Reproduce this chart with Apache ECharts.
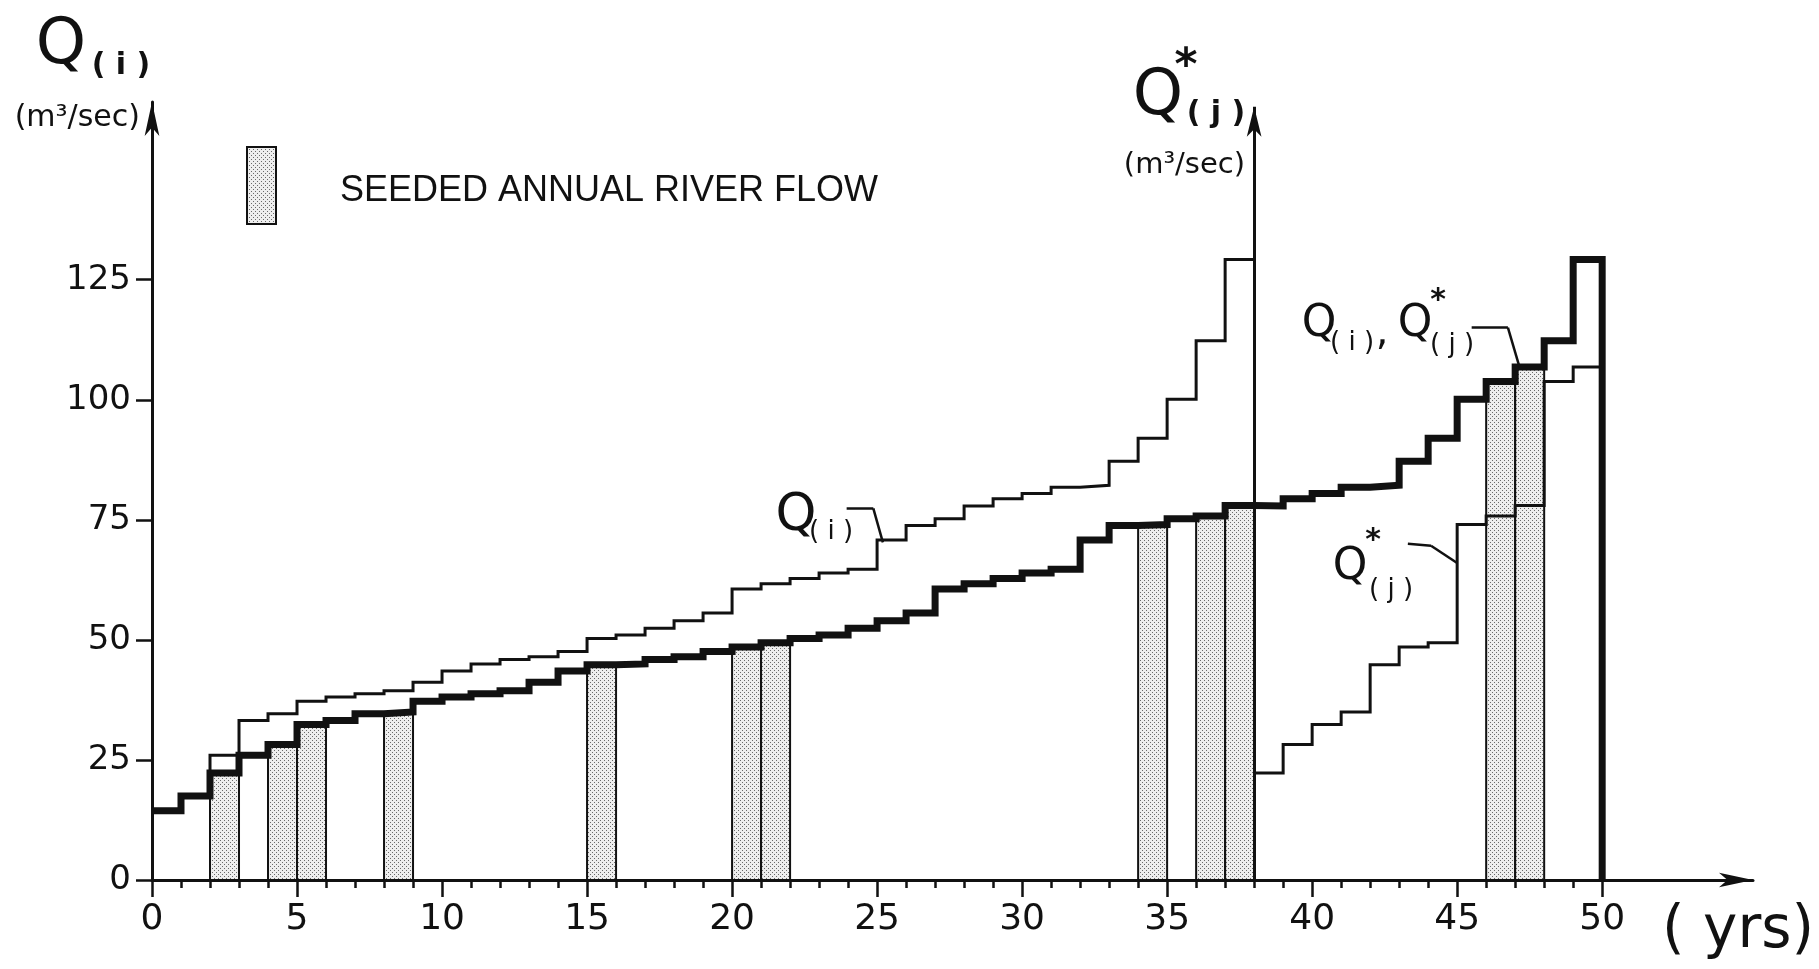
<!DOCTYPE html>
<html>
<head>
<meta charset="utf-8">
<title>Seeded annual river flow</title>
<script src="https://cdn.jsdelivr.net/npm/echarts@6/dist/echarts.min.js"></script>
<style>
html, body { margin: 0; padding: 0; background: #fff; }
#main { width: 1819px; height: 969px; }
</style>
</head>
<body>
<div id="main"></div>
<script>
// ranked annual flows of the unseeded years, Q(i) (m3/sec)
var qi = [14.4, 17.5, 26.0, 33.2, 34.6, 37.2, 38.1, 38.8, 39.4, 41.2,
          43.5, 45.0, 45.9, 46.5, 47.6, 50.3, 51.0, 52.4, 54.0, 55.6,
          60.6, 61.7, 62.8, 63.9, 64.7, 70.8, 73.8, 75.2, 77.9, 79.4,
          80.5, 81.8, 82.2, 87.2, 92.0, 100.1, 112.3, 129.2];
// ranked seeded flows, Q*(j)
var qj = [22.3, 28.2, 32.4, 35.0, 44.8, 48.5, 49.4, 74.0, 75.8, 78.0, 103.8, 106.8];
// rank slots taken by the seeded years in the combined ranking
var seededRank = [2, 4, 5, 8, 15, 20, 21, 34, 36, 37, 46, 47];
var yTicks = [0, 25, 50, 75, 100, 125];
var xLabels = [0, 5, 10, 15, 20, 25, 30, 35, 40, 45, 50];
var xMinor = [0, 1, 2, 3, 4, 5, 6, 7, 8, 9, 10, 11, 12, 13, 14, 15, 16, 17, 18, 19, 20,
              21, 22, 23, 24, 25, 26, 27, 28, 29, 30, 31, 32, 33, 34, 35, 36, 37, 38, 39, 40,
              41, 42, 43, 44, 45, 46, 47, 48, 49, 50];

var chart = echarts.init(document.getElementById('main'));

// merge both rankings into the combined Q(i),Q*(j) curve
var combined = [], bars = [];
var a = 0, b = 0;
for (var k = 0; k < qi.length + qj.length; k++) {
    if (seededRank.indexOf(k) >= 0) {
        combined.push(qj[b]);
        bars.push([k, k + 1, qj[b]]);
        b++;
    } else {
        combined.push(qi[a]);
        a++;
    }
}

function stepData(vals, x0) {
    var d = vals.map(function (v, i) { return [x0 + i, v]; });
    d.push([x0 + vals.length, vals[vals.length - 1]]);
    return d;
}
var thick = stepData(combined, 0);
thick.push([combined.length, 0]);

// stipple fill for the seeded bars
var cv = document.createElement('canvas');
cv.width = 4; cv.height = 4;
var cx = cv.getContext('2d');
cx.fillStyle = '#eeeeee';
cx.fillRect(0, 0, 4, 4);
cx.fillStyle = '#6a6a6a';
cx.fillRect(0, 0, 1, 1);
cx.fillRect(2, 2, 1, 1);
var stipple = { image: cv, repeat: 'repeat' };

var ink = '#111';
var font = 'DejaVu Sans';

option = {
    animation: false,
    backgroundColor: '#fff',
    grid: { left: 152, top: 102, width: 1601, height: 778 },
    legend: {
        left: 241, top: 141,
        icon: 'rect',
        itemWidth: 29, itemHeight: 77,
        selectedMode: false,
        data: ['SEEDED ANNUAL RIVER FLOW'],
        itemStyle: { color: stipple, borderColor: ink, borderWidth: 2 },
        formatter: '{t|{name}}',
        textStyle: {
            color: ink, padding: [0, 0, 0, 59],
            rich: { t: { fontFamily: 'Liberation Sans', fontSize: 36, color: ink, padding: [12, 0, 0, 0] } }
        }
    },
    xAxis: [{
        type: 'value', min: 0, max: 55.2,
        axisLine: { lineStyle: { color: ink, width: 3 }, symbol: ['none', 'arrow'], symbolSize: [11, 34] },
        axisTick: { customValues: xMinor, length: 8, lineStyle: { color: ink, width: 2.5 } },
        axisLabel: { customValues: xLabels, fontFamily: font, fontSize: 36, color: ink, margin: 22 },
        splitLine: { show: false }
    }, {
        type: 'value', min: 0, max: 55.2, position: 'bottom',
        axisLine: { show: false },
        axisTick: { customValues: xLabels, length: 17, lineStyle: { color: ink, width: 2.5 } },
        axisLabel: { show: false },
        splitLine: { show: false }
    }],
    yAxis: {
        type: 'value', min: 0, max: 162,
        axisLine: { show: true, lineStyle: { color: ink, width: 3 }, symbol: ['none', 'arrow'], symbolSize: [11, 34] },
        axisTick: { show: true, customValues: yTicks, length: 16, lineStyle: { color: ink, width: 2.5 } },
        axisLabel: { customValues: yTicks, fontFamily: font, fontSize: 34, color: ink, margin: 21 },
        splitLine: { show: false }
    },
    series: [
        {
            name: 'SEEDED ANNUAL RIVER FLOW',
            type: 'custom',
            z: 1,
            itemStyle: { color: stipple, borderColor: ink, borderWidth: 2 },
            renderItem: function (params, api) {
                var p0 = api.coord([api.value(0), api.value(2)]);
                var p1 = api.coord([api.value(1), 0]);
                return {
                    type: 'rect',
                    shape: { x: p0[0], y: p0[1], width: p1[0] - p0[0], height: p1[1] - p0[1] },
                    style: { fill: stipple, stroke: ink, lineWidth: 2 }
                };
            },
            data: bars
        },
        {
            name: 'Q(i)',
            type: 'line', step: 'end', symbol: 'none', z: 2,
            lineStyle: { color: ink, width: 3, join: 'miter' },
            data: stepData(qi, 0)
        },
        {
            name: 'Q*(j)',
            type: 'line', step: 'end', symbol: 'none', z: 2,
            lineStyle: { color: ink, width: 3, join: 'miter' },
            data: stepData(qj, qi.length),
            markLine: {
                silent: true,
                symbol: ['none', 'arrow'],
                symbolSize: [11, 30],
                label: { show: false },
                lineStyle: { color: ink, width: 3, type: 'solid' },
                data: [[{ coord: [qi.length, 0] }, { coord: [qi.length, 161] }]]
            }
        },
        {
            name: 'Q(i),Q*(j)',
            type: 'line', step: 'end', symbol: 'none', z: 3,
            lineStyle: { color: ink, width: 7, join: 'miter' },
            data: thick,
            markLine: {
                silent: true,
                symbol: 'none',
                label: { show: false },
                lineStyle: { color: ink, width: 2.5, type: 'solid' },
                data: [
                    [{ coord: [23.95, 77.4] }, { coord: [24.87, 77.4] }],
                    [{ coord: [24.87, 77.4] }, { coord: [25.2, 70.3] }],
                    [{ coord: [45.5, 115.0] }, { coord: [46.75, 115.0] }],
                    [{ coord: [46.75, 115.0] }, { coord: [47.15, 106.8] }],
                    [{ coord: [43.3, 70.0] }, { coord: [44.1, 69.6] }],
                    [{ coord: [44.1, 69.6] }, { coord: [45.0, 66.0] }]
                ]
            }
        }
    ],
    graphic: [
        // left axis title
        { type: 'text', style: { text: 'Q', x: 61, y: 46, align: 'center', verticalAlign: 'middle', font: '64px ' + font, fill: ink } },
        { type: 'text', style: { text: '( i )', x: 121, y: 66, align: 'center', verticalAlign: 'middle', font: 'bold 30px ' + font, fill: ink } },
        { type: 'text', style: { text: '(m³/sec)', x: 140, y: 118, align: 'right', verticalAlign: 'middle', font: '30px ' + font, fill: ink } },
        // second axis title
        { type: 'text', style: { text: 'Q', x: 1158, y: 97, align: 'center', verticalAlign: 'middle', font: '64px ' + font, fill: ink } },
        { type: 'text', style: { text: '*', x: 1186, y: 68, align: 'center', verticalAlign: 'middle', font: 'bold 44px ' + font, fill: ink } },
        { type: 'text', style: { text: '( j )', x: 1216, y: 114, align: 'center', verticalAlign: 'middle', font: 'bold 30px ' + font, fill: ink } },
        { type: 'text', style: { text: '(m³/sec)', x: 1245, y: 165, align: 'right', verticalAlign: 'middle', font: '29px ' + font, fill: ink } },
        // x axis name
        { type: 'text', style: { text: '( yrs)', x: 1662, y: 932, align: 'left', verticalAlign: 'middle', font: '58px ' + font, fill: ink } },
        // curve labels
        { type: 'text', style: { text: 'Q', x: 796, y: 516, align: 'center', verticalAlign: 'middle', font: '52px ' + font, fill: ink } },
        { type: 'text', style: { text: '( i )', x: 831, y: 532, align: 'center', verticalAlign: 'middle', font: '26px ' + font, fill: ink } },
        { type: 'text', style: { text: 'Q', x: 1319, y: 325, align: 'center', verticalAlign: 'middle', font: '44px ' + font, fill: ink } },
        { type: 'text', style: { text: '( i )', x: 1352, y: 343, align: 'center', verticalAlign: 'middle', font: '26px ' + font, fill: ink } },
        { type: 'text', style: { text: ',', x: 1382, y: 334, align: 'center', verticalAlign: 'middle', font: '40px ' + font, fill: ink } },
        { type: 'text', style: { text: 'Q', x: 1415, y: 325, align: 'center', verticalAlign: 'middle', font: '44px ' + font, fill: ink } },
        { type: 'text', style: { text: '*', x: 1438, y: 301, align: 'center', verticalAlign: 'middle', font: 'bold 30px ' + font, fill: ink } },
        { type: 'text', style: { text: '( j )', x: 1452, y: 345, align: 'center', verticalAlign: 'middle', font: '26px ' + font, fill: ink } },
        { type: 'text', style: { text: 'Q', x: 1350, y: 568, align: 'center', verticalAlign: 'middle', font: '44px ' + font, fill: ink } },
        { type: 'text', style: { text: '*', x: 1373, y: 541, align: 'center', verticalAlign: 'middle', font: 'bold 30px ' + font, fill: ink } },
        { type: 'text', style: { text: '( j )', x: 1391, y: 590, align: 'center', verticalAlign: 'middle', font: '26px ' + font, fill: ink } }
    ]
};
chart.setOption(option);
</script>
</body>
</html>
